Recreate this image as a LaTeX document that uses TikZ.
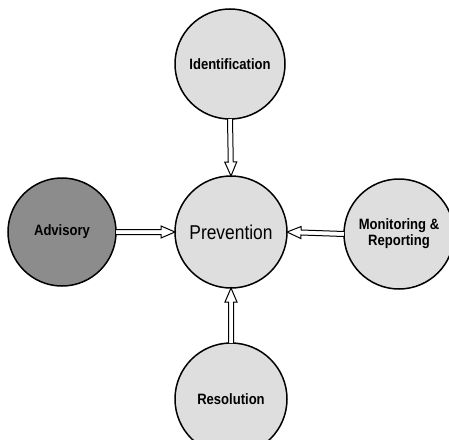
\documentclass[tikz,border=0pt]{standalone}
\usepackage{fontspec}
\setmainfont{Liberation Sans}
\newfontfamily\narrowsans[FakeStretch=0.87]{Liberation Sans}
\usetikzlibrary{calc}

\tikzset{
  bubble/.style={circle, draw=black, line width=1.5pt, fill=black!13,
    inner sep=0pt, outer sep=0pt, align=center},
  darkbubble/.style={bubble, fill=black!45},
  smalllabel/.style={font=\narrowsans\fontsize{15}{16}\selectfont\bfseries},
  biglabel/.style={font=\narrowsans\fontsize{20}{22}\selectfont},
  arrowline/.style={draw=black, line width=1pt, fill=white, line join=miter}
}

% hollow double-line arrow from node anchor #1 to node anchor #2
\newcommand\hollowarrow[2]{%
  \coordinate (ahb) at ($(#2)!14pt!(#1)$);
  \draw[arrowline]
    ($(#1)!2.5pt!90:(#2)$) -- ($(ahb)!2.5pt!90:(#2)$) -- ($(ahb)!6pt!90:(#2)$)
    -- (#2) -- ($(ahb)!6pt!-90:(#2)$) -- ($(ahb)!2.5pt!-90:(#2)$)
    -- ($(#1)!2.5pt!-90:(#2)$);
}

\begin{document}
\begin{tikzpicture}[x=1pt, y=-1pt]
  \useasboundingbox (0,0) rectangle (449,439);

  \node[bubble, minimum size=112pt, biglabel]
    (prev) at (231,232) {Prevention};
  \node[bubble, minimum size=110pt, smalllabel]
    (ident) at (230,64) {Identification};
  \node[darkbubble, minimum size=108pt, smalllabel]
    (adv) at (62,232) {Advisory};
  \node[bubble, minimum size=110pt, smalllabel]
    (mon) at (399,234) {Monitoring \&\\Reporting};
  \node[bubble, minimum size=112pt, smalllabel]
    (res) at (231,399) {Resolution};

  \hollowarrow{ident.south}{prev.north}
  \hollowarrow{res.north}{prev.south}
  \hollowarrow{adv.east}{prev.west}
  \hollowarrow{mon.west}{prev.east}
\end{tikzpicture}
\end{document}
